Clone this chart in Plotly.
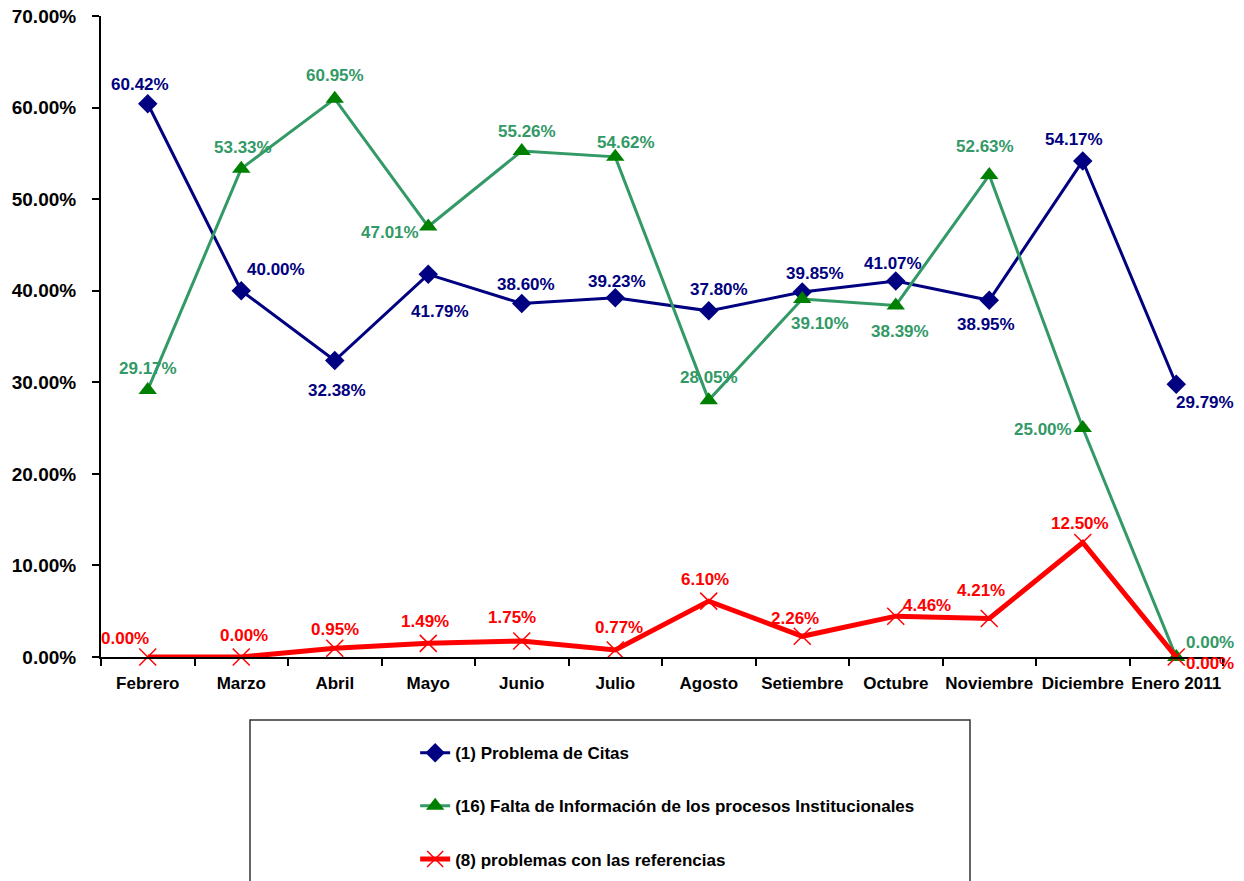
import plotly.graph_objects as go

months = ["Febrero", "Marzo", "Abril", "Mayo", "Junio", "Julio", "Agosto",
          "Setiembre", "Octubre", "Noviembre", "Diciembre", "Enero 2011"]
citas = [60.42, 40.00, 32.38, 41.79, 38.60, 39.23, 37.80, 39.85, 41.07, 38.95, 54.17, 29.79]
falta_info = [29.17, 53.33, 60.95, 47.01, 55.26, 54.62, 28.05, 39.10, 38.39, 52.63, 25.00, 0.00]
referencias = [0.00, 0.00, 0.95, 1.49, 1.75, 0.77, 6.10, 2.26, 4.46, 4.21, 12.50, 0.00]

names = ["(1) Problema de Citas",
         "(16) Falta de Información de los procesos Institucionales",
         "(8) problemas con las referencias"]
y_ticks = [0, 10, 20, 30, 40, 50, 60, 70]

# label offsets in pixels (dx right, dy down) relative to each marker
off_citas = [(-8, -19), (35, -21), (2, 30), (12, 37), (4, -19), (2, -16),
             (10, -21), (13, -19), (-3, -17), (-3, 24), (-9, -21), (29, 18)]
off_falta = [(0, -21), (2, -21), (0, -23), (-38, 6), (5, -19), (11, -14),
             (0, -23), (18, 25), (4, 26), (-4, -29), (-40, 1), (34, -15)]
off_ref = [(-23, -19), (3, -22), (0, -19), (-3, -22), (-10, -23), (4, -22),
           (-4, -22), (-7, -18), (31, -11), (-8, -28), (-3, -19), (34, 6)]

font_family = "Liberation Sans, Arial, sans-serif"
LBL = 17

NAVY = "#000080"
GREEN_LINE = "#339966"
GREEN_MARK = "#008000"
RED = "#FF0000"

def frac(v):
    return [x / 100 for x in v]

fig = go.Figure()
fig.add_trace(go.Scatter(
    x=months, y=frac(citas), name=f"<b>{names[0]}</b>", mode="lines+markers",
    line=dict(color=NAVY, width=3),
    marker=dict(symbol="diamond", size=15, color=NAVY),
    cliponaxis=False, legendgroup="a"))
fig.add_trace(go.Scatter(
    x=months, y=frac(falta_info), name=f"<b>{names[1]}</b>", mode="lines+markers",
    line=dict(color=GREEN_LINE, width=3),
    marker=dict(symbol="triangle-up", size=16, color=GREEN_MARK),
    cliponaxis=False, legendgroup="b"))
fig.add_trace(go.Scatter(
    x=months, y=frac(referencias), name=f"<b>{names[2]}</b>", mode="lines+markers",
    line=dict(color=RED, width=5),
    marker=dict(symbol="x-thin-open", size=17, color=RED, line=dict(width=1.5, color=RED)),
    cliponaxis=False, legendgroup="c"))

for vals, offs, col in [(citas, off_citas, NAVY), (falta_info, off_falta, GREEN_LINE),
                        (referencias, off_ref, RED)]:
    for m, v, (dx, dy) in zip(months, vals, offs):
        fig.add_annotation(x=m, y=v / 100, text=f"<b>{v:.2f}%</b>", showarrow=False,
                           xshift=dx, yshift=-dy,
                           font=dict(color=col, size=LBL, family=font_family))

fig.add_shape(type="rect", xref="paper", yref="paper",
              x0=0.1328, x1=0.7745, y0=-0.0983, y1=-0.40,
              line=dict(color="#333333", width=1.5), fillcolor="rgba(0,0,0,0)")

fig.update_layout(
    width=1244, height=881,
    margin=dict(l=101, r=21, t=16, b=224, autoexpand=False),
    paper_bgcolor="white", plot_bgcolor="white",
    font=dict(family=font_family, color="black"),
    showlegend=True,
    legend=dict(x=0.280, y=-0.122, xanchor="left", yanchor="top",
                font=dict(size=17, family=font_family),
                traceorder="grouped", tracegroupgap=28,
                bgcolor="rgba(0,0,0,0)", itemwidth=30),
    xaxis=dict(type="category", range=[-0.5, 11.5], showgrid=False, automargin=False,
               showline=True, linecolor="black", linewidth=2,
               ticks="outside", tickson="boundaries", ticklen=7, tickcolor="black", tickwidth=2,
               tickfont=dict(size=17, family=font_family, color="black"), tickangle=0,
               tickvals=months, ticktext=[f"<b>{m}</b>" for m in months],
               ticklabelstandoff=10, zeroline=False),
    yaxis=dict(range=[0, 0.7], showgrid=False, automargin=False,
               showline=True, linecolor="black", linewidth=2,
               ticks="outside", ticklen=7, tickcolor="black", tickwidth=2,
               tickfont=dict(size=19, family=font_family, color="black"),
               tickvals=[t / 100 for t in y_ticks],
               ticktext=[f"<b>{t:.2f}%</b>" for t in y_ticks],
               ticklabelstandoff=12, zeroline=False),
)

fig.write_html("out.html", config={"displayModeBar": False},
               post_script="document.body.style.margin='0px';")
